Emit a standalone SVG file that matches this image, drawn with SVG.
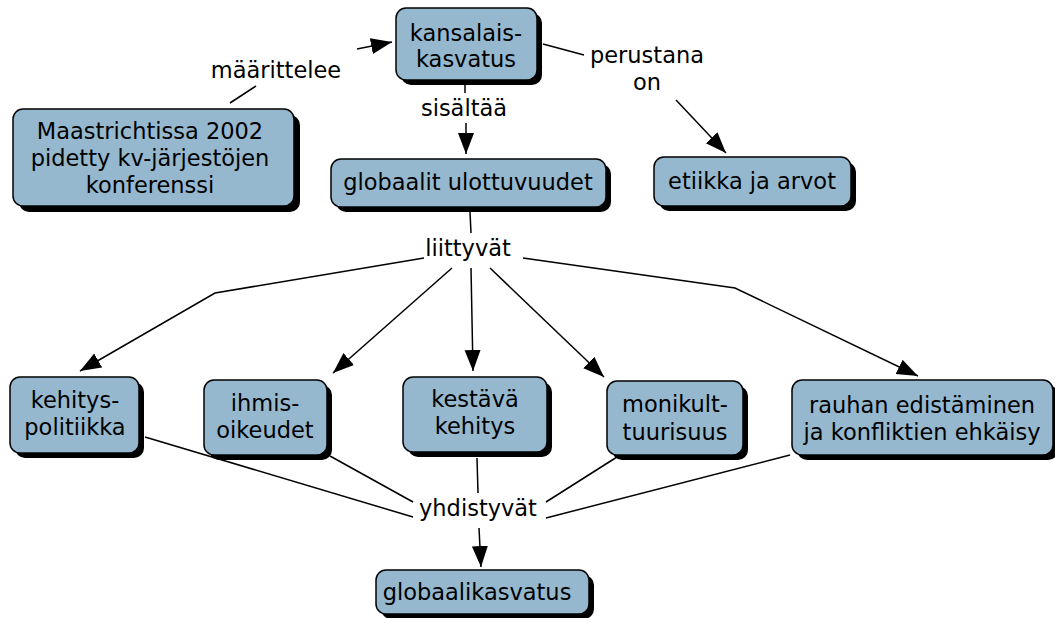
<svg xmlns="http://www.w3.org/2000/svg" width="1055" height="618" viewBox="0 0 1055 618">
<style>
.sh{fill:#000}
.bx{fill:#95b8cf;stroke:#000;stroke-width:1.5}
text{font-family:"DejaVu Sans",Verdana,sans-serif;font-size:22.5px;fill:#000;text-anchor:middle}
.ln{fill:none;stroke:#000;stroke-width:1.5}
</style>
<defs>
<marker id="ah" markerUnits="userSpaceOnUse" markerWidth="22" markerHeight="18" refX="21" refY="9" orient="auto">
<path d="M0,1 L21,9 L0,17 Z" fill="#000"/>
</marker>
</defs>
<rect width="1055" height="618" fill="#fff"/>
<g id="connectors">
<line class="ln" x1="230" y1="103" x2="256" y2="86"/>
<line class="ln" x1="357" y1="49" x2="392" y2="42" marker-end="url(#ah)"/>
<line class="ln" x1="465" y1="84" x2="465" y2="93"/>
<line class="ln" x1="466" y1="123" x2="466" y2="154" marker-end="url(#ah)"/>
<line class="ln" x1="543" y1="44" x2="584" y2="55"/>
<line class="ln" x1="676" y1="100" x2="726" y2="153" marker-end="url(#ah)"/>
<line class="ln" x1="470" y1="212" x2="471" y2="233"/>
<polyline class="ln" points="424,258 215,293 80,371" marker-end="url(#ah)"/>
<line class="ln" x1="452" y1="268" x2="333" y2="373" marker-end="url(#ah)"/>
<line class="ln" x1="471" y1="268" x2="473" y2="371" marker-end="url(#ah)"/>
<line class="ln" x1="490" y1="268" x2="604" y2="377" marker-end="url(#ah)"/>
<polyline class="ln" points="523,258 735,288 918,376" marker-end="url(#ah)"/>
<line class="ln" x1="145" y1="437" x2="413" y2="517"/>
<line class="ln" x1="330" y1="456" x2="413" y2="502"/>
<line class="ln" x1="477" y1="458" x2="478" y2="493"/>
<line class="ln" x1="617" y1="457" x2="546" y2="502"/>
<line class="ln" x1="790" y1="455" x2="546" y2="518"/>
<line class="ln" x1="479" y1="528" x2="481" y2="567" marker-end="url(#ah)"/>
<text x="276" y="78">määrittelee</text>
<text x="464" y="116">sisältää</text>
<text x="647" y="63">perustana</text>
<text x="647" y="90">on</text>
<text x="468" y="256">liittyvät</text>
<text x="478" y="516">yhdistyvät</text>
</g>
<g id="n-kansalaiskasvatus">
<rect class="sh" x="401" y="13" width="141" height="72" rx="10"/>
<rect class="bx" x="396" y="8" width="141" height="72" rx="10"/>
<text x="466" y="41">kansalais-</text>
<text x="466" y="67">kasvatus</text>
</g>
<g id="n-maastricht">
<rect class="sh" x="19" y="115" width="281" height="97" rx="10"/>
<rect class="bx" x="13" y="109" width="281" height="97" rx="10"/>
<text x="150" y="139">Maastrichtissa 2002</text>
<text x="150" y="166">pidetty kv-järjestöjen</text>
<text x="150" y="193">konferenssi</text>
</g>
<g id="n-globaalit">
<rect class="sh" x="336" y="164" width="275" height="48" rx="10"/>
<rect class="bx" x="331" y="159" width="275" height="48" rx="10"/>
<text x="468" y="190">globaalit ulottuvuudet</text>
</g>
<g id="n-etiikka">
<rect class="sh" x="659" y="162" width="197" height="49" rx="10"/>
<rect class="bx" x="654" y="157" width="197" height="49" rx="10"/>
<text x="752" y="189">etiikka ja arvot</text>
</g>
<g id="n-kehityspolitiikka">
<rect class="sh" x="15" y="382" width="129" height="76" rx="10"/>
<rect class="bx" x="10" y="377" width="129" height="76" rx="10"/>
<text x="75" y="408">kehitys-</text>
<text x="75" y="435">politiikka</text>
</g>
<g id="n-ihmisoikeudet">
<rect class="sh" x="209" y="385" width="123" height="75" rx="10"/>
<rect class="bx" x="204" y="380" width="123" height="75" rx="10"/>
<text x="265" y="411">ihmis-</text>
<text x="265" y="438">oikeudet</text>
</g>
<g id="n-kestava">
<rect class="sh" x="408" y="382" width="144" height="75" rx="10"/>
<rect class="bx" x="403" y="377" width="144" height="75" rx="10"/>
<text x="475" y="407">kestävä</text>
<text x="475" y="434">kehitys</text>
</g>
<g id="n-monikulttuurisuus">
<rect class="sh" x="612" y="386" width="136" height="74" rx="10"/>
<rect class="bx" x="607" y="381" width="136" height="74" rx="10"/>
<text x="675" y="412">monikult-</text>
<text x="675" y="440">tuurisuus</text>
</g>
<g id="n-rauhan">
<rect class="sh" x="797" y="385" width="261" height="75" rx="10"/>
<rect class="bx" x="792" y="380" width="261" height="75" rx="10"/>
<text x="922" y="413">rauhan edistäminen</text>
<text x="922" y="440">ja konfliktien ehkäisy</text>
</g>
<g id="n-globaalikasvatus">
<rect class="sh" x="381" y="575" width="213" height="44" rx="10"/>
<rect class="bx" x="376" y="570" width="213" height="44" rx="10"/>
<text x="477" y="600">globaalikasvatus</text>
</g>
</svg>
